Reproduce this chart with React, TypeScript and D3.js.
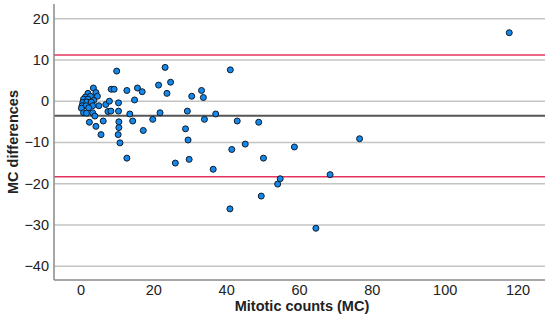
import { scaleLinear } from 'd3'

// Bland-Altman style: mean mitotic count vs. difference
const meanCounts = [
  3.4, 4.1, 1.9, 1.2, 2.6, 4.5, 0.7, 1.9, 3.5, 0.5, 1.6, 2.8, 0.3, 1.4, 3.2, 4.9, 0.1, 2.1, 0.7, 1.5,
  3.2, 3.8, 2.3, 4.1, 5.5, 6.1, 6.8, 7.4, 8.2, 10.3, 8.3, 9.1, 12.6, 9.8, 10.3, 7.8, 10.4, 10.4, 10.2, 10.7,
  12.6, 13.4, 14.2, 14.7, 15.5, 16.8, 17.1, 19.7, 21.7, 21.3, 23.1, 24.6, 23.6, 25.9, 29.2, 28.7, 29.4, 29.7, 30.4, 33.1,
  33.6, 33.9, 36.3, 37.0, 41.0, 42.9, 48.8, 45.1, 41.4, 58.6, 50.1, 54.7, 54.0, 68.4, 49.5, 40.9, 64.5, 76.5, 117.6,
]
const differences = [
  3.2, 2.1, 1.9, 1.0, 1.2, 1.2, 0.5, 0.5, 0.2, -0.3, -0.2, -0.2, -1.1, -1.1, -1.1, -1.1, -1.7, -1.6, -2.8, -2.9,
  -2.8, -3.6, -5.1, -6.1, -8.1, -4.8, -0.8, -2.5, -2.4, -2.4, 2.9, 2.9, 2.6, 7.3, -0.4, 0.0, -5.0, -6.4, -8.1, -10.1,
  -13.8, -3.1, -4.8, 0.3, 3.2, 2.3, -7.1, -4.4, -2.8, 3.9, 8.2, 4.6, 1.9, -15.0, -2.4, -6.7, -9.4, -14.1, 1.2, 2.6,
  0.9, -4.4, -16.5, -3.1, 7.6, -4.8, -5.1, -10.4, -11.7, -11.1, -13.8, -18.8, -20.1, -17.8, -23.0, -26.1, -30.8, -9.1, 16.6,
]

const meanDiff = -3.55
const upperLimit = 11.2
const lowerLimit = -18.3

const xTicks = [0, 20, 40, 60, 80, 100, 120]
const yTicks = [20, 10, 0, -10, -20, -30, -40]

const width = 550
const height = 328
const plot = { left: 54, right: 545, top: 4, bottom: 280 }

const fmt = (v: number) => (v < 0 ? `\u2212${Math.abs(v)}` : `${v}`)

export default function App() {
  const x = scaleLinear().domain([0, 120]).range([81, 518])
  const y = scaleLinear().domain([20, -40]).range([18.7, 266.2])

  const font = 'Arial, "Liberation Sans", sans-serif'

  return (
    <svg
      width={width}
      height={height}
      style={{ position: 'absolute', left: 0, top: 0, background: '#fff' }}
      fontFamily={font}
    >
      {yTicks.map((t) => (
        <line
          key={`grid-${t}`}
          x1={plot.left}
          x2={plot.right}
          y1={y(t)}
          y2={y(t)}
          stroke="#c4c4c4"
          strokeWidth={1.5}
        />
      ))}

      {[upperLimit, lowerLimit].map((v) => (
        <line
          key={`loa-${v}`}
          x1={plot.left}
          x2={plot.right}
          y1={y(v)}
          y2={y(v)}
          stroke="#e5335f"
          strokeWidth={1.5}
        />
      ))}
      <line
        x1={plot.left}
        x2={plot.right}
        y1={y(meanDiff)}
        y2={y(meanDiff)}
        stroke="#555"
        strokeWidth={2}
      />

      <line x1={plot.left} x2={plot.left} y1={plot.top} y2={plot.bottom} stroke="#8a8a8a" strokeWidth={1.5} />
      <line x1={plot.left} x2={plot.right} y1={plot.bottom} y2={plot.bottom} stroke="#8a8a8a" strokeWidth={1.5} />

      {meanCounts.map((m, i) => (
        <circle
          key={i}
          cx={x(m)}
          cy={y(differences[i])}
          r={3}
          fill="#1588ec"
          stroke="#0d1b2a"
          strokeWidth={1}
        />
      ))}

      {yTicks.map((t) => (
        <text key={`yl-${t}`} x={49} y={y(t) + 5} textAnchor="end" fontSize={14.5} fill="#222">
          {fmt(t)}
        </text>
      ))}
      {xTicks.map((t) => (
        <text key={`xl-${t}`} x={x(t)} y={295} textAnchor="middle" fontSize={14.5} fill="#222">
          {t}
        </text>
      ))}

      <text x={302} y={311} textAnchor="middle" fontSize={14.5} fontWeight="bold" fill="#222">
        Mitotic counts (MC)
      </text>
      <text
        transform={`translate(18,${(plot.top + plot.bottom) / 2}) rotate(-90)`}
        textAnchor="middle"
        fontSize={14.5}
        fontWeight="bold"
        fill="#222"
      >
        MC differences
      </text>
    </svg>
  )
}
